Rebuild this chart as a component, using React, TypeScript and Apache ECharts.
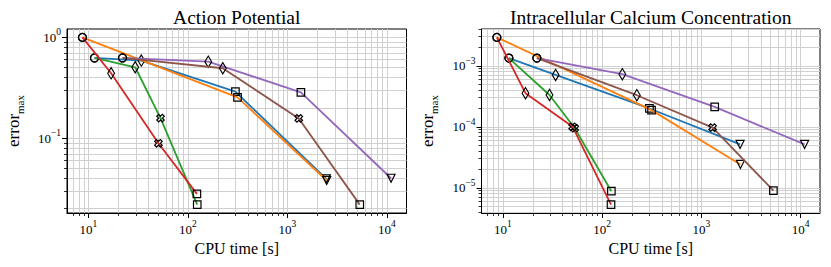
import React, { useEffect, useRef } from 'react';
import * as echarts from 'echarts';

// ---------- data (CPU time in s, error_max) ----------
const seriesColors = ['#1f77b4', '#ff7f0e', '#2ca02c', '#d62728', '#9467bd', '#8c564b'];

const cpuBlue = [11.5, 34, 300, 2460];
const cpuOrange = [8.7, 315, 2480];
const cpuGreen = [11.5, 29.5, 53, 124];
const cpuRed = [8.7, 16.9, 50.5, 123];
const cpuPurple = [22, 160, 1365, 11000];
const cpuBrown = [22, 224, 1300, 5330];

const mkBlue = ['o', 'd', 's', 'v'];
const mkOrange = ['o', 's', 'v'];
const mkGreen = ['o', 'd', 'X', 's'];
const mkRed = ['o', 'd', 'X', 's'];
const mkPurple = ['o', 'd', 's', 'v'];
const mkBrown = ['o', 'd', 'X', 's'];

const apBlue = [0.625, 0.588, 0.289, 0.0395];
const apOrange = [1.0, 0.254, 0.038];
const apGreen = [0.625, 0.505, 0.158, 0.0219];
const apRed = [1.0, 0.44, 0.089, 0.028];
const apPurple = [0.625, 0.574, 0.285, 0.04];
const apBrown = [0.625, 0.494, 0.157, 0.0219];

const caBlue = [1.34e-3, 7.1e-4, 2.0e-4, 5.15e-5];
const caOrange = [2.93e-3, 1.88e-4, 2.42e-5];
const caGreen = [1.34e-3, 3.33e-4, 9.5e-5, 8.8e-6];
const caRed = [2.93e-3, 3.56e-4, 1.0e-4, 5.3e-6];
const caPurple = [1.34e-3, 7.3e-4, 2.12e-4, 5.15e-5];
const caBrown = [1.34e-3, 3.3e-4, 9.7e-5, 9.0e-6];

const panelTitles = ['Action Potential', 'Intracellular Calcium Concentration'];
const xAxisTitle = 'CPU time [s]';

const cpuAll = [cpuBlue, cpuOrange, cpuGreen, cpuRed, cpuPurple, cpuBrown];
const mkAll = [mkBlue, mkOrange, mkGreen, mkRed, mkPurple, mkBrown];
const apAll = [apBlue, apOrange, apGreen, apRed, apPurple, apBrown];
const caAll = [caBlue, caOrange, caGreen, caRed, caPurple, caBrown];

// ---------- styling ----------
const SERIF = '"Liberation Serif", serif';
const PLUS = 'path://M-1,-3L1,-3L1,-1L3,-1L3,1L1,1L1,3L-1,3L-1,1L-3,1L-3,-1L-1,-1Z';
const GRIDC = '#d0d0d0';

const markerStyle = (m: string) => {
  switch (m) {
    case 'o': return { symbol: 'circle', symbolSize: 8 };
    case 's': return { symbol: 'rect', symbolSize: 7.5 };
    case 'd': return { symbol: 'diamond', symbolSize: [6.8, 11.3] };
    case 'v': return { symbol: 'triangle', symbolSize: 8, symbolRotate: 180 };
    default: return { symbol: PLUS, symbolSize: 8, symbolRotate: 45 };
  }
};

const log10 = (v: number) => Math.log10(v);

const extentLog = (arrs: number[][]) => {
  const vals = arrs.flat().map(log10);
  const lo = Math.min(...vals);
  const hi = Math.max(...vals);
  const m = (hi - lo) * 0.05;
  return [lo - m, hi + m];
};

const majorLog = (lo: number, hi: number) => {
  const out: number[] = [];
  for (let k = Math.ceil(lo); k <= Math.floor(hi); k++) out.push(k);
  return out;
};
const minorLog = (lo: number, hi: number) => {
  const out: number[] = [];
  for (let k = Math.floor(lo); k <= Math.ceil(hi); k++) {
    for (let m = 2; m <= 9; m++) {
      const v = k + Math.log10(m);
      if (v > lo && v < hi) out.push(v);
    }
  }
  return out;
};

const expLabel = (v: number) => {
  const e = Math.round(v);
  const s = e < 0 ? '\u2212' + Math.abs(e) : String(e);
  return `{m|10}{e|${s}}`;
};

const tickRich = {
  m: { fontFamily: SERIF, fontSize: 13, lineHeight: 20, color: '#000' },
  e: { fontFamily: SERIF, fontSize: 9.5, lineHeight: 9, verticalAlign: 'top', color: '#000' },
};

const GRIDS = [
  { left: 67, top: 29, width: 339.5, height: 184 },
  { left: 481.5, top: 29, width: 338.5, height: 184 },
];

function buildOption() {
  const [xMin, xMax] = extentLog(cpuAll);
  const yExt = [extentLog(apAll), extentLog(caAll)];
  const panels = [apAll, caAll];

  const grid: any[] = [];
  const xAxis: any[] = [];
  const yAxis: any[] = [];
  const series: any[] = [];
  const graphic: any[] = [];

  GRIDS.forEach((g, gi) => {
    grid.push({
      ...g,
      show: true,
      borderColor: '#000',
      borderWidth: 1,
      backgroundColor: 'transparent',
      containLabel: false,
      outerBoundsMode: 'none',
    });
    const [yMin, yMax] = yExt[gi];
    const xMaj = majorLog(xMin, xMax);
    const xMin2 = minorLog(xMin, xMax);
    const yMaj = majorLog(yMin, yMax);
    const yMin2 = minorLog(yMin, yMax);

    xAxis.push({
      type: 'value', gridIndex: gi, min: xMin, max: xMax, position: 'bottom',
      axisLine: { show: true, onZero: false, lineStyle: { color: '#000', width: 1 } },
      axisTick: { show: true, length: 5, customValues: xMaj, lineStyle: { color: '#000', width: 1 } },
      axisLabel: { show: true, customValues: xMaj, margin: 6, formatter: expLabel, rich: tickRich },
      splitLine: { show: true, lineStyle: { color: GRIDC, width: 1 } },
      name: xAxisTitle, nameLocation: 'middle', nameGap: 27, nameMoveOverlap: false,
      nameTextStyle: { fontFamily: SERIF, fontSize: 16, color: '#000' },
    });
    xAxis.push({
      type: 'value', gridIndex: gi, min: xMin, max: xMax, position: 'bottom',
      axisLine: { show: false, onZero: false },
      axisTick: { show: true, length: 3, customValues: xMin2, lineStyle: { color: '#000', width: 0.8 } },
      axisLabel: { show: false },
      splitLine: { show: true, lineStyle: { color: GRIDC, width: 1 } },
    });
    yAxis.push({
      type: 'value', gridIndex: gi, min: yMin, max: yMax, position: 'left',
      axisLine: { show: true, onZero: false, lineStyle: { color: '#000', width: 1 } },
      axisTick: { show: true, length: 5, customValues: yMaj, lineStyle: { color: '#000', width: 1 } },
      axisLabel: { show: true, customValues: yMaj, margin: 6, formatter: expLabel, rich: tickRich },
      splitLine: { show: true, lineStyle: { color: GRIDC, width: 1 } },
      name: '{n|error}{s|max}', nameLocation: 'middle', nameGap: 42, nameRotate: 90, nameMoveOverlap: false,
      nameTextStyle: {
        color: '#000',
        rich: {
          n: { fontFamily: SERIF, fontSize: 17, lineHeight: 24, color: '#000' },
          s: { fontFamily: SERIF, fontSize: 11, lineHeight: 11, verticalAlign: 'bottom', color: '#000' },
        },
      },
    });
    yAxis.push({
      type: 'value', gridIndex: gi, min: yMin, max: yMax, position: 'left',
      axisLine: { show: false, onZero: false },
      axisTick: { show: true, length: 3, customValues: yMin2, lineStyle: { color: '#000', width: 0.8 } },
      axisLabel: { show: false },
      splitLine: { show: true, lineStyle: { color: GRIDC, width: 1 } },
    });

    const vals = panels[gi];
    for (let si = 0; si < 6; si++) {
      const data = cpuAll[si].map((x, i) => ({
        value: [log10(x), log10(vals[si][i])],
        ...markerStyle(mkAll[si][i]),
      }));
      series.push({
        type: 'line',
        xAxisIndex: gi * 2,
        yAxisIndex: gi * 2,
        data,
        showSymbol: true,
        showAllSymbol: true,
        lineStyle: { color: seriesColors[si], width: 1.8 },
        itemStyle: { color: 'rgba(0,0,0,0)', borderColor: '#000', borderWidth: 1.2 },
        emphasis: { disabled: true },
        silent: true,
        clip: false,
        z: 2 + si,
      });
    }

    graphic.push({
      type: 'text',
      x: g.left + g.width / 2,
      y: 17,
      style: {
        text: panelTitles[gi],
        fontFamily: SERIF,
        fontSize: 19.5,
        fill: '#000',
        align: 'center',
        verticalAlign: 'middle',
      },
    });
  });

  return {
    animation: false,
    backgroundColor: '#fff',
    grid,
    xAxis,
    yAxis,
    series,
    graphic,
  };
}

export default function App() {
  const ref = useRef<HTMLDivElement>(null);
  useEffect(() => {
    if (!ref.current) return;
    const chart = echarts.init(ref.current, undefined, { renderer: 'svg' });
    chart.setOption(buildOption() as any);
    return () => chart.dispose();
  }, []);
  return (
    <div
      ref={ref}
      style={{ position: 'fixed', left: 0, top: 0, width: 831, height: 267, background: '#fff' }}
    />
  );
}
